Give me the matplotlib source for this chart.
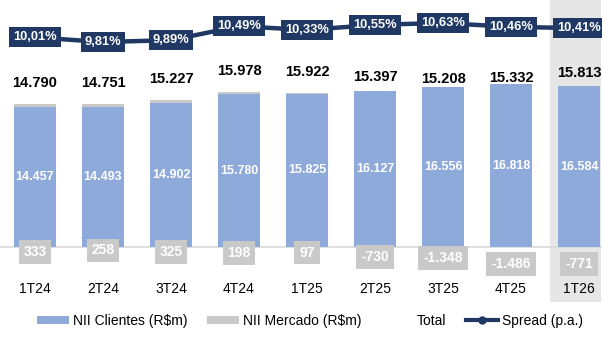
import matplotlib
matplotlib.use("Agg")
import matplotlib.pyplot as plt
from matplotlib.patches import Patch, Rectangle
from matplotlib.lines import Line2D
import numpy as np

categories = ["1T24", "2T24", "3T24", "4T24", "1T25", "2T25", "3T25", "4T25", "1T26"]
nii_clientes = [14457, 14493, 14902, 15780, 15825, 16127, 16556, 16818, 16584]
nii_mercado = [333, 258, 325, 198, 97, -730, -1348, -1486, -771]
total = [14790, 14751, 15227, 15978, 15922, 15397, 15208, 15332, 15813]
spread = [10.01, 9.81, 9.89, 10.49, 10.33, 10.55, 10.63, 10.46, 10.41]
spread_labels = ["10,01%", "9,81%", "9,89%", "10,49%", "10,33%", "10,55%", "10,63%", "10,46%", "10,41%"]


def br(v):
    s = f"{abs(v):,}".replace(",", ".")
    return ("-" if v < 0 else "") + s


plt.rcParams['font.family'] = ['Liberation Sans', 'DejaVu Sans']

W, H = 602, 346
fig = plt.figure(figsize=(W / 100, H / 100), dpi=100)
ax = fig.add_axes([0, 0, 1, 1])
ax2 = ax.twinx()

# pixel mapping
x0_px, dx_px = 35, 68
base_px = H - 247  # from bottom
px_per_unit = 9.684 / 1000.0
ax.set_xlim(-x0_px / dx_px, (W - x0_px) / dx_px)
ax.set_ylim(-base_px / px_per_unit, (H - base_px) / px_per_unit)

sp_ref, sp_ref_px, sp_scale = 9.81, H - 42, 23.2
ax2.set_ylim(sp_ref - sp_ref_px / sp_scale, sp_ref + (H - sp_ref_px) / sp_scale)
ax2.set_xlim(ax.get_xlim())

for a in (ax, ax2):
    a.axis("off")

x = np.arange(len(categories))

# highlight for last quarter
ylo_hl = (H - 302 - base_px) / px_per_unit
ax.add_patch(Rectangle((7.57, ylo_hl), 0.75, 1e6, color="#e7e6e6", zorder=0, lw=0))

# baseline
ax.axhline(0, color="#d9d9d9", lw=1.2, zorder=1)

blue = "#8eaadb"
grey = "#c9c9c9"
navy = "#1f3864"
bw = 0.62

ax.bar(x, nii_clientes, width=bw, color=blue, zorder=2)
merc = np.array(nii_mercado)
ax.bar(x, np.clip(merc, 0, None), bottom=nii_clientes, width=bw, color=grey, zorder=2)

for i in range(len(x)):
    ax.text(x[i], nii_clientes[i] / 2, br(nii_clientes[i]), ha="center", va="center",
            color="white", fontsize=9, fontweight="bold", zorder=5)
    ax.annotate(br(total[i]), (x[i], total[i]), xytext=(0, 15), textcoords="offset points",
                ha="center", va="center", fontsize=10.5, fontweight="bold", color="black", zorder=5)

merc_offsets = [-3.5, -2.5, -3.5, -4.5, -4, -7, -8, -12, -12]
for i in range(len(x)):
    ax.annotate(br(nii_mercado[i]), (x[i], 0), xytext=(0, merc_offsets[i]), textcoords="offset points",
                ha="center", va="center", fontsize=10, fontweight="bold", color="white", zorder=5,
                bbox=dict(boxstyle="square,pad=0.35", fc=grey, ec="none"))
    ax.annotate(categories[i], (x[i], 0), xytext=(0, -30), textcoords="offset points",
                ha="center", va="center", fontsize=10, color="black", zorder=5)

ax2.plot(x, spread, color=navy, lw=3.2, marker="o", ms=6, zorder=3)
for i in range(len(x)):
    ax2.text(x[i], spread[i], spread_labels[i], ha="center", va="center", fontsize=9.3,
             fontweight="bold", color="white", zorder=6,
             bbox=dict(boxstyle="square,pad=0.3", fc=navy, ec="none"))

handles = [
    Patch(facecolor=blue, edgecolor="none", label="NII Clientes (R$m)"),
    Patch(facecolor=grey, edgecolor="none", label="NII Mercado (R$m)"),
    Line2D([], [], color="none", label="Total"),
    Line2D([], [], color=navy, lw=3, marker="o", ms=5, label="Spread (p.a.)"),
]
fig.legend(handles=handles, loc="center", bbox_to_anchor=(0.515, 1 - 321 / H), ncol=4,
           frameon=False, fontsize=10, handlelength=2.3, handleheight=0.55,
           handletextpad=0.3, columnspacing=1.4)

fig.savefig("out.png", dpi=100)
